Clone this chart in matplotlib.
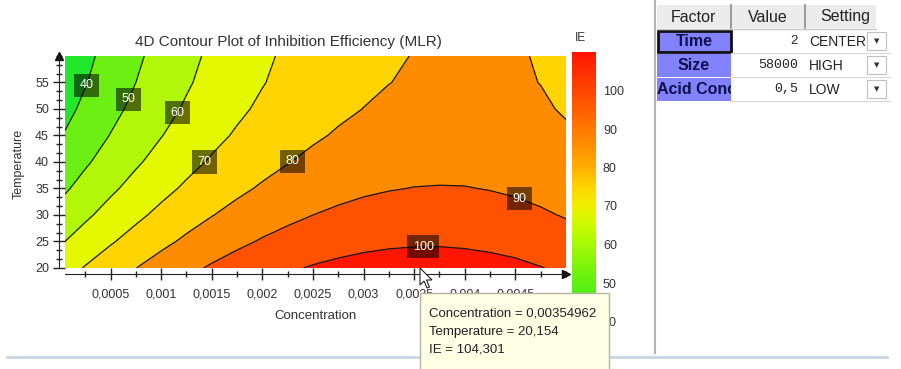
import numpy as np
import matplotlib
matplotlib.use("Agg")
import matplotlib.pyplot as plt
from matplotlib.colors import LinearSegmentedColormap, Normalize
from matplotlib.patches import Rectangle, Polygon
from matplotlib.lines import Line2D
from matplotlib.ticker import AutoMinorLocator, FixedLocator
from matplotlib import transforms
import matplotlib.cm as cm

plt.rcParams['font.family'] = ['Liberation Sans', 'DejaVu Sans']

# IE values (rows = temperature, cols = concentration)
conc = [0.00005, 0.00025, 0.0005, 0.00075, 0.001, 0.00125, 0.0015, 0.00175, 0.002, 0.00225, 0.0025,
        0.00275, 0.003, 0.00325, 0.0035, 0.00375, 0.004, 0.00425, 0.0045, 0.00475, 0.005]
temp = [20, 25, 30, 35, 40, 45, 50, 55, 60]
ie = [
    [66.5, 70.6, 75.5, 79.9, 84.0, 87.7, 91.1, 94.0, 96.6, 98.8, 100.7, 102.1, 103.2, 103.9, 104.3, 104.2, 103.8, 103.0, 101.9, 100.3, 98.4],
    [60.0, 64.2, 69.1, 73.6, 77.8, 81.6, 85.0, 88.1, 90.8, 93.1, 95.0, 96.5, 97.7, 98.5, 98.9, 99.0, 98.6, 97.9, 96.9, 95.4, 93.6],
    [54.1, 58.4, 63.4, 68.0, 72.3, 76.2, 79.7, 82.8, 85.6, 87.9, 90.0, 91.6, 92.8, 93.7, 94.2, 94.4, 94.1, 93.5, 92.5, 91.1, 89.4],
    [48.9, 53.3, 58.4, 63.1, 67.4, 71.4, 75.0, 78.2, 81.0, 83.5, 85.6, 87.3, 88.7, 89.6, 90.2, 90.4, 90.3, 89.7, 88.8, 87.5, 85.9],
    [44.4, 48.8, 54.0, 58.8, 63.2, 67.3, 71.0, 74.3, 77.2, 79.7, 81.9, 83.7, 85.1, 86.2, 86.9, 87.2, 87.1, 86.6, 85.8, 84.6, 83.0],
    [40.6, 45.1, 50.3, 55.2, 59.7, 63.9, 67.6, 71.0, 74.0, 76.6, 78.9, 80.8, 82.3, 83.4, 84.2, 84.6, 84.6, 84.2, 83.5, 82.4, 80.9],
    [37.4, 42.0, 47.3, 52.3, 56.9, 61.1, 64.9, 68.4, 71.5, 74.2, 76.6, 78.5, 80.1, 81.3, 82.2, 82.6, 82.7, 82.5, 81.8, 80.8, 79.4],
    [34.9, 39.5, 45.0, 50.0, 54.7, 59.0, 62.9, 66.5, 69.6, 72.4, 74.9, 76.9, 78.6, 79.9, 80.8, 81.4, 81.6, 81.4, 80.8, 79.9, 78.5],
    [33.1, 37.8, 43.3, 48.4, 53.2, 57.6, 61.6, 65.2, 68.5, 71.4, 73.9, 76.0, 77.8, 79.2, 80.2, 80.8, 81.1, 81.0, 80.5, 79.6, 78.4],
]
line_levels = [40, 50, 60, 70, 80, 90, 100]
fill_levels = [0, 40, 50, 60, 70, 80, 90, 100, 120]
fill_colors = ['#22e82c', '#6cf014', '#b2f60a', '#e4f800', '#ffd400', '#ff8c00', '#ff5200', '#ff1600']

xtick_vals = [0.0005, 0.001, 0.0015, 0.002, 0.0025, 0.003, 0.0035, 0.004, 0.0045]
xtick_labels = ['0,0005', '0,001', '0,0015', '0,002', '0,0025', '0,003', '0,0035', '0,004', '0,0045']
ytick_vals = [20, 25, 30, 35, 40, 45, 50, 55]

# where the contour labels sit
label_pos = [(0.000277, 54.3), (0.00069, 51.7), (0.00118, 49.1), (0.00144, 39.8),
             (0.0023, 40.0), (0.00453, 32.5), (0.00359, 24.2)]

cbar_vals = [30, 40, 50, 60, 65, 70, 75, 80, 90, 100, 110]
cbar_cols = ['#14e128', '#28e81e', '#5ff00f', '#a5fa05', '#cdfa00', '#f0f000',
             '#ffd400', '#ffaf00', '#ff7800', '#ff4600', '#ff1400']
cbar_ticks = [40, 50, 60, 70, 80, 90, 100]

factors = ['Time', 'Size', 'Acid Conc']
values = ['2', '58000', '0,5']
settings = ['CENTER', 'HIGH', 'LOW']

tip_lines = ['Concentration = 0,00354962', 'Temperature = 20,154', 'IE = 104,301']

W, H = 901, 369
fig = plt.figure(figsize=(W / 100, H / 100), dpi=100)
fig.patch.set_facecolor('white')


def fx(x):
    return x / W


def fy(y):
    return 1 - y / H


def rect(x0, y0, x1, y1, **kw):
    fig.add_artist(Rectangle((fx(x0), fy(y1)), (x1 - x0) / W, (y1 - y0) / H,
                             transform=fig.transFigure, **kw))


def hline(x0, x1, y, **kw):
    fig.add_artist(Line2D([fx(x0), fx(x1)], [fy(y), fy(y)], transform=fig.transFigure, **kw))


def vline(x, y0, y1, **kw):
    fig.add_artist(Line2D([fx(x), fx(x)], [fy(y0), fy(y1)], transform=fig.transFigure, **kw))


# main contour plot
ax = fig.add_axes([fx(65), fy(268), 501 / W, 212 / H])
ax.contourf(conc, temp, ie, levels=fill_levels, colors=fill_colors)
cs = ax.contour(conc, temp, ie, levels=line_levels, colors='#1a1a1a', linewidths=0.9)
labels = ax.clabel(cs, inline=False, fontsize=9, colors='white', fmt='%d', manual=label_pos)
for t in labels:
    t.set_rotation(0)
    t.set_bbox(dict(boxstyle='square,pad=0.45', fc='black', ec='none', alpha=0.55))

ax.set_xlim(0.00005, 0.005)
ax.set_ylim(20, 60)
ax.xaxis.set_major_locator(FixedLocator(xtick_vals))
ax.set_xticklabels(xtick_labels)
ax.set_yticks(ytick_vals)
ax.xaxis.set_minor_locator(AutoMinorLocator(2))
ax.yaxis.set_minor_locator(AutoMinorLocator(3))
ax.tick_params(which='major', direction='inout', length=8, width=1, color='#222',
               labelsize=9, labelcolor='#333')
ax.tick_params(axis='x', which='major', pad=7)
ax.tick_params(which='minor', direction='inout', length=4, width=1, color='#222')
for s in ['top', 'right']:
    ax.spines[s].set_visible(False)
for s in ['left', 'bottom']:
    ax.spines[s].set_position(('outward', 4))
    ax.spines[s].set_color('#222')

off_x = transforms.offset_copy(ax.transAxes, fig=fig, x=0, y=-4, units='points')
off_y = transforms.offset_copy(ax.transAxes, fig=fig, x=-4, y=0, units='points')
ax.plot([1], [0], marker='>', ms=6, color='#111', transform=off_x, clip_on=False)
ax.plot([0], [1], marker='^', ms=6, color='#111', transform=off_y, clip_on=False)

ax.set_xlabel('Concentration', fontsize=9.5, color='#333')
ax.xaxis.set_label_coords(0.5, -0.2)
ax.set_ylabel('Temperature', fontsize=9, color='#333')
ax.yaxis.set_label_coords(-0.08, 0.49)

fig.text(fx(288), fy(42), '4D Contour Plot of Inhibition Efficiency (MLR)',
         ha='center', va='center', fontsize=11, color='#333')

# colour bar
cmap = LinearSegmentedColormap.from_list(
    'ie', [((v - cbar_vals[0]) / (cbar_vals[-1] - cbar_vals[0]), c) for v, c in zip(cbar_vals, cbar_cols)])
cax = fig.add_axes([fx(572), fy(360), 24 / W, 308 / H])
cb = fig.colorbar(cm.ScalarMappable(norm=Normalize(cbar_vals[0], cbar_vals[-1]), cmap=cmap), cax=cax)
cb.set_ticks(cbar_ticks)
cb.outline.set_visible(False)
cax.tick_params(length=0, labelsize=9, labelcolor='#333', pad=5)
fig.text(fx(580), fy(38), 'IE', ha='center', va='center', fontsize=8.5, color='#333')

# panel borders
vline(655, 0, 353, color='#b5b5b5', lw=1.5)
hline(7, 887, 357, color='#c9d5e2', lw=2)

# factor table
rect(657, 5, 876, 28, fc='#ececec', ec='none')
hline(657, 876, 28.5, color='#c8c8c8', lw=1)
vline(731, 5, 28, color='#8a8a8a', lw=1.2)
vline(805, 5, 28, color='#8a8a8a', lw=1.2)
fig.text(fx(693), fy(17), 'Factor', ha='center', va='center', fontsize=11.5, color='#222')
fig.text(fx(768), fy(17), 'Value', ha='center', va='center', fontsize=11.5, color='#222')
fig.text(fx(845), fy(17), 'Setting', ha='center', va='center', fontsize=11.5, color='#222')

for i, (f, v, s) in enumerate(zip(factors, values, settings)):
    top = 30 + i * 24
    mid = top + 11.5
    if i == 0:
        rect(658, top + 1, 731, top + 22, fc='#8282ff', ec='#111', lw=2)
    else:
        rect(657, top, 731, top + 23, fc='#8282ff', ec='none')
    if f == 'Acid Conc':
        t = fig.text(fx(657), fy(mid), f, ha='left', va='center', fontsize=11.5,
                     fontweight='bold', color='#10104a')
        clip = transforms.TransformedBbox(
            transforms.Bbox.from_extents(fx(657), fy(top + 23), fx(731), fy(top)), fig.transFigure)
        t.set_clip_box(clip)
        t.set_clip_on(True)
    else:
        fig.text(fx(694), fy(mid), f, ha='center', va='center', fontsize=11.5,
                 fontweight='bold', color='#10104a')
    fam = ['Liberation Sans'] if v == '2' else ['Liberation Mono', 'DejaVu Sans Mono']
    fig.text(fx(798), fy(mid), v, ha='right', va='center', fontsize=9.5,
             family=fam, color='#222')
    fig.text(fx(809), fy(mid), s, ha='left', va='center', fontsize=10, color='#222')
    rect(867, top + 2, 886, top + 20, fc='white', ec='#c0c0c0', lw=0.8)
    fig.text(fx(876.5), fy(mid - 0.5), '▼', ha='center', va='center', fontsize=5,
             family=['DejaVu Sans'], color='#333')
    hline(731, 890, top + 23, color='#d8d8d8', lw=0.8)

# tooltip + cursor
rect(420, 293, 609, 372, fc='#ffffe6', ec='#b4b4a0', lw=1, zorder=5)
for k, line in enumerate(tip_lines):
    fig.text(fx(429), fy(313 + k * 18.5), line, ha='left', va='center', fontsize=9.5,
             color='#222', zorder=6)

cur = np.array([(0, 0), (0, 17), (4, 13), (7, 20), (9.5, 19), (6.5, 12), (12, 12)])
cur_fig = [(fx(420 + a), fy(268 + b)) for a, b in cur]
fig.add_artist(Polygon(cur_fig, closed=True, transform=fig.transFigure,
                       fc='white', ec='#222', lw=0.8, zorder=7))

fig.savefig('out.png', dpi=100)
